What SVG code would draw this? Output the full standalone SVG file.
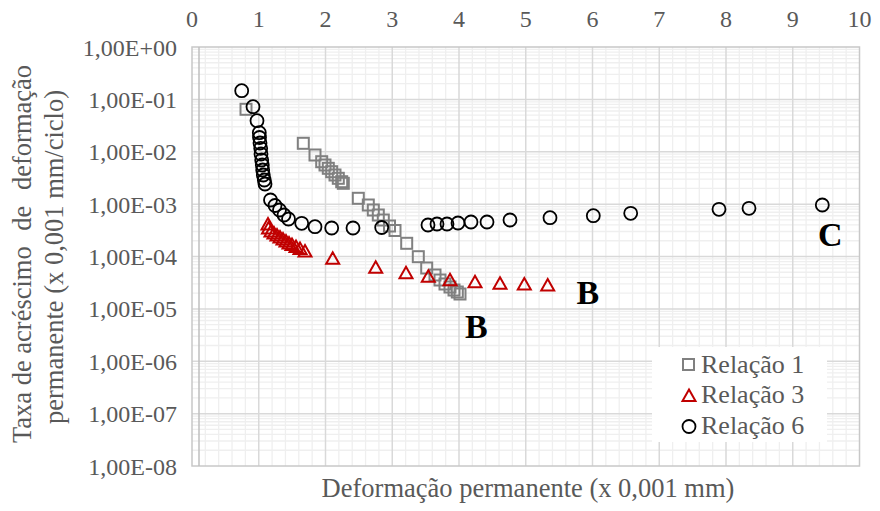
<svg xmlns="http://www.w3.org/2000/svg" xmlns:xlink="http://www.w3.org/1999/xlink" width="880" height="511" viewBox="0 0 880 511">
<style>
.minor{stroke:#efefef;stroke-width:1.3;fill:none}
.major{stroke:#d9d9d9;stroke-width:1.5;fill:none}
.tick{font-family:"Liberation Serif","Times New Roman",serif;font-size:24px;fill:#595959}
.title{font-family:"Liberation Serif","Times New Roman",serif;font-size:26.5px;fill:#595959}
.leg{font-family:"Liberation Serif","Times New Roman",serif;font-size:26px;fill:#595959}
.lab{font-family:"Liberation Serif","Times New Roman",serif;font-size:34px;font-weight:bold;fill:#000}
.s1{fill:none;stroke:#808080;stroke-width:2}
.s3{fill:none;stroke:#c00000;stroke-width:2}
.s6{fill:none;stroke:#000;stroke-width:1.8}
</style>
<defs>
<g id="dec" class="minor">
<path d="M192,2.40H859.5M192,5.08H859.5M192,8.11H859.5M192,11.62H859.5M192,15.77H859.5M192,20.84H859.5M192,27.39H859.5M192,36.61H859.5"/>
</g>
<g id="unit" class="minor">
<path d="M13.35,47V466M26.7,47V466M40.05,47V466M53.4,47V466"/>
</g>
<rect id="sq" class="s1" x="-5.5" y="-5.5" width="11" height="11"/>
<path id="tri" class="s3" d="M0,-6L6.5,5.5L-6.5,5.5Z"/>
<circle id="cir" class="s6" r="6.5"/>
</defs>
<rect width="880" height="511" fill="#fff"/>
<g id="grid">
<use xlink:href="#dec" y="47"/><use xlink:href="#dec" y="99.375"/><use xlink:href="#dec" y="151.75"/><use xlink:href="#dec" y="204.125"/>
<use xlink:href="#dec" y="256.5"/><use xlink:href="#dec" y="308.875"/><use xlink:href="#dec" y="361.25"/><use xlink:href="#dec" y="413.625"/>
<use xlink:href="#unit" x="192"/><use xlink:href="#unit" x="258.75"/><use xlink:href="#unit" x="325.5"/><use xlink:href="#unit" x="392.25"/><use xlink:href="#unit" x="459"/>
<use xlink:href="#unit" x="525.75"/><use xlink:href="#unit" x="592.5"/><use xlink:href="#unit" x="659.25"/><use xlink:href="#unit" x="726"/><use xlink:href="#unit" x="792.75"/>
<path class="major" d="M192,99.375H859.5M192,151.75H859.5M192,204.125H859.5M192,256.5H859.5M192,308.875H859.5M192,361.25H859.5M192,413.625H859.5"/>
<path class="major" d="M258.75,47V466M325.5,47V466M392.25,47V466M459,47V466M525.75,47V466M592.5,47V466M659.25,47V466M726,47V466M792.75,47V466"/>
<rect x="192" y="47" width="667.5" height="419" fill="none" stroke="#c8c8c8" stroke-width="1.5"/>
<path d="M199,47V466" stroke="#bfbfbf" stroke-width="1.5"/>
</g>
<g id="axis-top" class="tick" text-anchor="middle">
<text x="192" y="27">0</text><text x="258.75" y="27">1</text><text x="325.5" y="27">2</text><text x="392.25" y="27">3</text><text x="459" y="27">4</text><text x="525.75" y="27">5</text><text x="592.5" y="27">6</text><text x="659.25" y="27">7</text><text x="726" y="27">8</text><text x="792.75" y="27">9</text><text x="859.5" y="27">10</text>
</g>
<g id="axis-left" class="tick" text-anchor="end">
<text x="177" y="55.5">1,00E+00</text><text x="177" y="107.9">1,00E-01</text><text x="177" y="160.3">1,00E-02</text><text x="177" y="212.6">1,00E-03</text><text x="177" y="265">1,00E-04</text><text x="177" y="317.4">1,00E-05</text><text x="177" y="369.8">1,00E-06</text><text x="177" y="422.1">1,00E-07</text><text x="177" y="474.5">1,00E-08</text>
</g>
<g id="titles" class="title" text-anchor="middle">
<text x="528" y="497">Deformação permanente (x 0,001 mm)</text>
<text transform="translate(31,254) rotate(-90)">Taxa de acréscimo <tspan dx="9">de</tspan> <tspan dx="9">deformação</tspan></text>
<text transform="translate(63,257) rotate(-90)">permanente (x 0,001 mm/ciclo)</text>
</g>
<g id="serie-relacao-1">
<use xlink:href="#sq" x="246" y="109.3"/><use xlink:href="#sq" x="303.3" y="143.3"/><use xlink:href="#sq" x="315" y="155"/><use xlink:href="#sq" x="321.7" y="161.7"/><use xlink:href="#sq" x="325" y="165"/><use xlink:href="#sq" x="328.3" y="168.3"/><use xlink:href="#sq" x="331.7" y="171.7"/><use xlink:href="#sq" x="335" y="175"/><use xlink:href="#sq" x="338.3" y="178.3"/><use xlink:href="#sq" x="341.7" y="181.7"/><use xlink:href="#sq" x="343.3" y="183.3"/>
<use xlink:href="#sq" x="358.3" y="198.3"/><use xlink:href="#sq" x="368.3" y="205"/><use xlink:href="#sq" x="373.3" y="210"/><use xlink:href="#sq" x="378.3" y="215"/><use xlink:href="#sq" x="383.3" y="220"/><use xlink:href="#sq" x="389.5" y="226"/><use xlink:href="#sq" x="395" y="230.5"/><use xlink:href="#sq" x="406.7" y="243.3"/><use xlink:href="#sq" x="418.3" y="256.7"/><use xlink:href="#sq" x="426.7" y="268"/><use xlink:href="#sq" x="435" y="275"/><use xlink:href="#sq" x="440" y="280"/><use xlink:href="#sq" x="445" y="284"/><use xlink:href="#sq" x="450" y="287"/><use xlink:href="#sq" x="454" y="290"/><use xlink:href="#sq" x="457.3" y="292"/><use xlink:href="#sq" x="460" y="294"/>
</g>
<g id="serie-relacao-3">
<use xlink:href="#tri" x="268" y="224"/><use xlink:href="#tri" x="268.5" y="228"/><use xlink:href="#tri" x="271" y="231"/><use xlink:href="#tri" x="274" y="233"/><use xlink:href="#tri" x="277" y="235"/><use xlink:href="#tri" x="280" y="237"/><use xlink:href="#tri" x="283" y="239"/><use xlink:href="#tri" x="286" y="241"/><use xlink:href="#tri" x="289" y="243"/><use xlink:href="#tri" x="292" y="244.5"/><use xlink:href="#tri" x="296" y="246.5"/><use xlink:href="#tri" x="300" y="248.5"/><use xlink:href="#tri" x="305" y="251"/>
<use xlink:href="#tri" x="332.7" y="258.3"/><use xlink:href="#tri" x="375.7" y="267.3"/><use xlink:href="#tri" x="406" y="272.7"/><use xlink:href="#tri" x="428.3" y="276.3"/><use xlink:href="#tri" x="450" y="279.7"/><use xlink:href="#tri" x="475" y="281.7"/><use xlink:href="#tri" x="500" y="283.3"/><use xlink:href="#tri" x="524.3" y="284"/><use xlink:href="#tri" x="547.7" y="285"/>
</g>
<g id="serie-relacao-6">
<use xlink:href="#cir" x="241.7" y="90.7"/><use xlink:href="#cir" x="253" y="106.7"/><use xlink:href="#cir" x="257" y="120.7"/><use xlink:href="#cir" x="259.3" y="132.7"/><use xlink:href="#cir" x="259.5" y="137.5"/><use xlink:href="#cir" x="260" y="143"/><use xlink:href="#cir" x="260.7" y="148.3"/><use xlink:href="#cir" x="261" y="154"/><use xlink:href="#cir" x="261.7" y="160"/><use xlink:href="#cir" x="262.3" y="165"/><use xlink:href="#cir" x="262.7" y="170"/><use xlink:href="#cir" x="263.3" y="175"/><use xlink:href="#cir" x="264.3" y="180"/><use xlink:href="#cir" x="265" y="184"/>
<use xlink:href="#cir" x="270.5" y="200"/><use xlink:href="#cir" x="275" y="205.5"/><use xlink:href="#cir" x="279.5" y="210"/><use xlink:href="#cir" x="284" y="215"/><use xlink:href="#cir" x="288.5" y="219"/><use xlink:href="#cir" x="301.7" y="223.3"/><use xlink:href="#cir" x="315" y="226.7"/><use xlink:href="#cir" x="331.7" y="228"/><use xlink:href="#cir" x="353" y="228"/><use xlink:href="#cir" x="381.7" y="227.5"/>
<use xlink:href="#cir" x="428" y="225"/><use xlink:href="#cir" x="437" y="224"/><use xlink:href="#cir" x="447" y="224"/><use xlink:href="#cir" x="458" y="223"/><use xlink:href="#cir" x="471" y="222"/><use xlink:href="#cir" x="487" y="222"/><use xlink:href="#cir" x="510" y="220"/><use xlink:href="#cir" x="550" y="217.7"/><use xlink:href="#cir" x="593.3" y="215.7"/><use xlink:href="#cir" x="630.7" y="213.3"/><use xlink:href="#cir" x="719" y="209.3"/><use xlink:href="#cir" x="749" y="208.3"/><use xlink:href="#cir" x="822.3" y="205"/>
</g>
<g id="labels" class="lab">
<text x="465" y="338">B</text>
<text x="576.5" y="304">B</text>
<text x="818" y="245.5">C</text>
</g>
<g id="legend">
<rect x="652" y="347" width="175" height="95" fill="#fff"/>
<use xlink:href="#sq" x="688.5" y="364.5"/>
<use xlink:href="#tri" x="689" y="395.5"/>
<use xlink:href="#cir" x="689" y="426.5"/>
<text class="leg" x="701" y="372.5">Relação 1</text>
<text class="leg" x="701" y="403">Relação 3</text>
<text class="leg" x="701" y="434">Relação 6</text>
</g>
</svg>
